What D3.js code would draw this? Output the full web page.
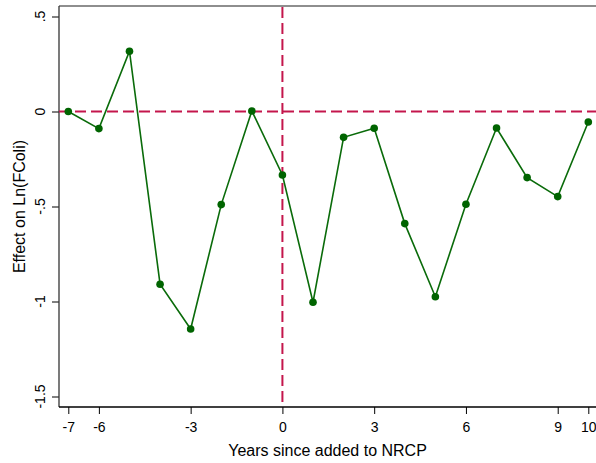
<!DOCTYPE html>
<html>
<head>
<meta charset="utf-8">
<script src="https://cdn.jsdelivr.net/npm/d3@7"></script>
<style>
  body { margin: 0; background: #fff; }
  text { font-family: "Liberation Sans", Arial, sans-serif; fill: #000; }
</style>
</head>
<body>
<div class="chart"></div>
<script>
// Chart data
var years = [-7, -6, -5, -4, -3, -2, -1, 0, 1, 2, 3, 4, 5, 6, 7, 8, 9, 10];
var effects = [0, -0.09, 0.317, -0.909, -1.145, -0.49, 0.003, -0.334, -1.004, -0.136, -0.088,
               -0.59, -0.975, -0.488, -0.087, -0.348, -0.448, -0.055];
var xTicks = [-7, -6, -3, 0, 3, 6, 9, 10];
var yTicks = [0.5, 0, -0.5, -1, -1.5];

var svgWidth = 596;
var svgHeight = 463;

// plot box edges
var plotLeft = 59, plotRight = 596, plotTop = 6, plotBottom = 407;

var svg = d3.select(".chart")
  .append("svg")
  .attr("width", svgWidth)
  .attr("height", svgHeight);

// Scales
var xScale = d3.scaleLinear().domain([-7, 10]).range([68.3, 588.3]);
var yScale = d3.scaleLinear().domain([-1.5, 0.5]).range([396.5, 16.5]);

// tick label format like ".5", "-.5" with plain hyphen
var fmt = d => d === 0 ? "0" : String(d).replace("0.", ".");

// top border
svg.append("line")
  .attr("x1", plotLeft).attr("x2", plotRight)
  .attr("y1", plotTop).attr("y2", plotTop)
  .attr("stroke", "#8e8e8e").attr("stroke-width", 2);

// Axes
var bottomAxis = d3.axisBottom(xScale).tickValues(xTicks).tickSize(7).tickSizeOuter(0)
  .tickPadding(8).tickFormat(d => String(d));
var leftAxis = d3.axisLeft(yScale).tickValues(yTicks).tickSize(7).tickSizeOuter(0).tickFormat("");

var xg = svg.append("g").attr("transform", `translate(0, ${plotBottom})`).call(bottomAxis);
xg.select(".domain").remove();
xg.selectAll("line").attr("stroke", "#000");
xg.selectAll("text").attr("font-size", 14).attr("font-family", "Liberation Sans, Arial, sans-serif");

var yg = svg.append("g").attr("transform", `translate(${plotLeft}, 0)`).call(leftAxis);
yg.select(".domain").remove();
yg.selectAll("line").attr("stroke", "#000");

// rotated y tick labels
svg.selectAll(".ylab")
  .data(yTicks)
  .enter()
  .append("text")
  .attr("class", "ylab")
  .attr("transform", d => `translate(45, ${yScale(d)}) rotate(-90)`)
  .attr("text-anchor", "middle")
  .attr("font-size", 14)
  .text(fmt);

// axis lines
svg.append("line")
  .attr("x1", plotLeft).attr("x2", plotLeft)
  .attr("y1", plotTop).attr("y2", plotBottom)
  .attr("stroke", "#333").attr("stroke-width", 1.3);
svg.append("line")
  .attr("x1", plotLeft).attr("x2", plotRight)
  .attr("y1", plotBottom).attr("y2", plotBottom)
  .attr("stroke", "#000").attr("stroke-width", 1.5);

// Reference lines
svg.append("line")
  .attr("x1", plotLeft).attr("x2", plotRight)
  .attr("y1", yScale(0)).attr("y2", yScale(0))
  .attr("stroke", "#c4164c").attr("stroke-width", 2)
  .attr("stroke-dasharray", "11,5");
svg.append("line")
  .attr("x1", xScale(0)).attr("x2", xScale(0))
  .attr("y1", plotTop + 1).attr("y2", plotBottom)
  .attr("stroke", "#c4164c").attr("stroke-width", 2)
  .attr("stroke-dasharray", "11,5");

// Line and markers
var pts = years.map((y, i) => ({ year: y, effect: effects[i] }));

svg.append("path")
  .datum(pts)
  .attr("fill", "none")
  .attr("stroke", "#0a6b0a")
  .attr("stroke-width", 1.6)
  .attr("d", d3.line().x(d => xScale(d.year)).y(d => yScale(d.effect)));

svg.selectAll("circle")
  .data(pts)
  .enter()
  .append("circle")
  .attr("cx", d => xScale(d.year))
  .attr("cy", d => yScale(d.effect))
  .attr("r", 3.8)
  .attr("fill", "#006400");

// Axis labels
svg.append("text")
  .attr("transform", `translate(${(plotLeft + plotRight) / 2}, 456)`)
  .attr("text-anchor", "middle")
  .attr("font-size", 16)
  .text("Years since added to NRCP");

svg.append("text")
  .attr("transform", `translate(25, ${(plotTop + plotBottom) / 2}) rotate(-90)`)
  .attr("text-anchor", "middle")
  .attr("font-size", 16)
  .text("Effect on Ln(FColi)");
</script>
</body>
</html>
